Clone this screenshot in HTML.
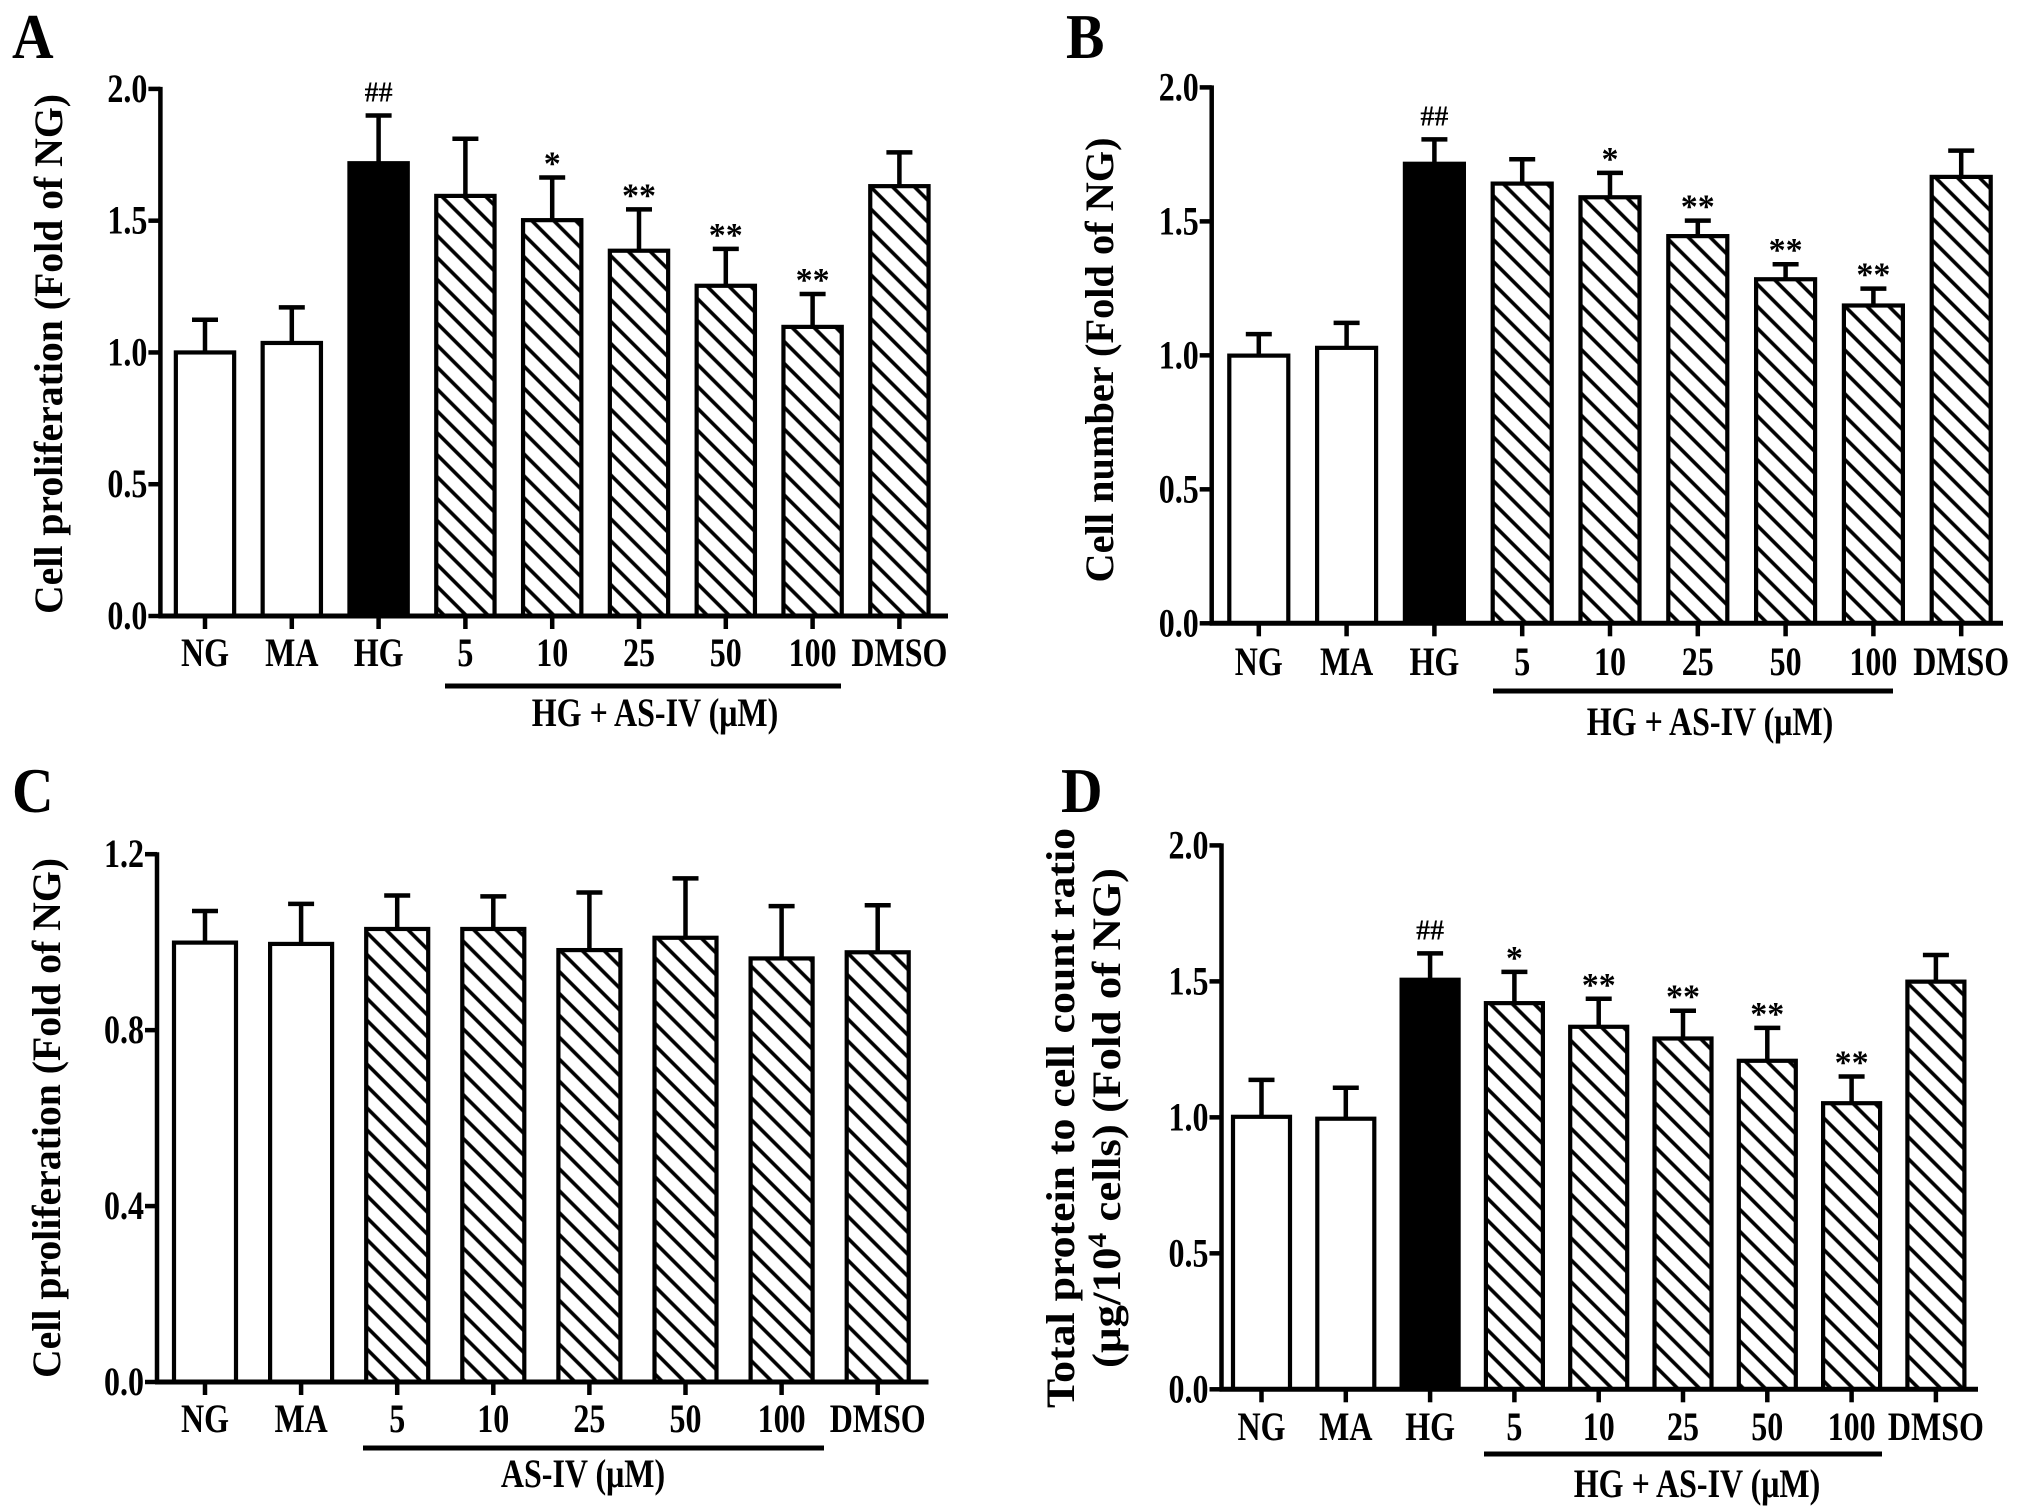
<!DOCTYPE html>
<html><head><meta charset="utf-8"><style>
html,body{margin:0;padding:0;background:#fff}
svg{display:block}
text{font-family:"Liberation Serif",serif;font-weight:bold;fill:#000}
</style></head><body>
<svg id="fig" width="2031" height="1507" viewBox="0 0 2031 1507" xmlns="http://www.w3.org/2000/svg">
<defs>
<pattern id="hatch" patternUnits="userSpaceOnUse" width="15.5" height="15.5" patternTransform="rotate(-45)">
<rect width="15.5" height="15.5" fill="#fff"/>
<line x1="3" y1="0" x2="3" y2="15.5" stroke="#000" stroke-width="3.6"/>
</pattern>
</defs>
</svg>
<script>
// ---- data ----
const catsA = ["NG","MA","HG","5","10","25","50","100","DMSO"];
const valsA = [1.0,1.036,1.718,1.594,1.502,1.386,1.253,1.097,1.631];
const errA  = [1.124,1.171,1.899,1.811,1.664,1.543,1.393,1.222,1.759];
const sigA  = ["","","##","","*","**","**","**",""];
const ticksA = [0,0.5,1.0,1.5,2.0];
const tickLabelsA = ["0.0","0.5","1.0","1.5","2.0"];

const catsB = ["NG","MA","HG","5","10","25","50","100","DMSO"];
const valsB = [0.999,1.028,1.715,1.641,1.590,1.445,1.284,1.186,1.666];
const errB  = [1.079,1.121,1.806,1.732,1.681,1.503,1.340,1.249,1.764];
const sigB  = ["","","##","","*","**","**","**",""];
const ticksB = [0,0.5,1.0,1.5,2.0];
const tickLabelsB = ["0.0","0.5","1.0","1.5","2.0"];

const catsC = ["NG","MA","5","10","25","50","100","DMSO"];
const valsC = [0.999,0.996,1.030,1.030,0.982,1.010,0.963,0.977];
const errC  = [1.071,1.087,1.106,1.104,1.113,1.145,1.082,1.084];
const sigC  = ["","","","","","","",""];
const ticksC = [0,0.4,0.8,1.2];
const tickLabelsC = ["0.0","0.4","0.8","1.2"];

const catsD = ["NG","MA","HG","5","10","25","50","100","DMSO"];
const valsD = [1.002,0.995,1.506,1.420,1.333,1.290,1.208,1.052,1.499];
const errD  = [1.138,1.109,1.603,1.535,1.436,1.392,1.329,1.150,1.597];
const sigD  = ["","","##","*","**","**","**","**",""];
const ticksD = [0,0.5,1.0,1.5,2.0];
const tickLabelsD = ["0.0","0.5","1.0","1.5","2.0"];

const styleA = ["open","open","solid","hatch","hatch","hatch","hatch","hatch","hatch"];
const styleC = ["open","open","hatch","hatch","hatch","hatch","hatch","hatch"];

const NS = "http://www.w3.org/2000/svg";
const svg = document.getElementById('fig');
function mk(tag, attrs, parent){
  const e = document.createElementNS(NS, tag);
  for (const k in attrs) e.setAttribute(k, attrs[k]);
  (parent||svg).appendChild(e);
  return e;
}
// condensed tall text
function ctext(g, x, y, str, size, anchor, sx){
  const t = mk('text', {x:0, y:0, 'text-anchor':anchor, 'font-size':size, transform:'translate('+x+','+y+') scale('+sx+',1)'}, g);
  t.textContent = str;
  return t;
}

function panel(p){
  const g = mk('g', {});
  
  
  const yScale = v => p.y0 - (v / p.ymax) * (p.y0 - p.yTop);
  const xScale = i => p.c0 + i * p.step;
  const L = ctext(g, p.letterX, p.letterY, p.id, 64, 'start', 0.9);
  
  
  p.vals.forEach((v,i)=>{
    const cx = xScale(i), top = yScale(v), et = yScale(p.err[i]);
    const er = mk('line', {x1:cx, x2:cx, y1:top, y2:et, stroke:'#000','stroke-width':4.5}, g);
    
    
    const cap = mk('line', {x1:cx-13, x2:cx+13, y1:et, y2:et, stroke:'#000','stroke-width':4.5}, g);
    
    
    const st = p.styles[i];
    const fill = st==='solid' ? '#000' : (st==='hatch' ? 'url(#hatch)' : '#fff');
    const r = mk('rect', {x:cx-p.bw/2, y:top, width:p.bw, height:p.y0-top, fill:fill, stroke:'#000','stroke-width':4.2}, g);
    
    
    if (p.sig[i]) {
      const isHash = p.sig[i].indexOf('#')>=0;
      const s = mk('text', {x:cx, y: isHash ? et-14 : et-3, 'text-anchor':'middle', 'font-size': isHash?28:34, 'font-weight': isHash?'normal':'bold'}, g);
      s.textContent = p.sig[i];
      
      
    }
    const tk = mk('line', {x1:cx, x2:cx, y1:p.y0, y2:p.y0+13, stroke:'#000','stroke-width':4.5}, g);
    
    
    const lb = ctext(g, cx, p.labelY, p.cats[i], 40, 'middle', 0.8);
    
    
  });
  const ya = mk('line', {x1:p.x0, x2:p.x0, y1:p.yTop-2, y2:p.y0+2, stroke:'#000','stroke-width':4.5}, g);
  
  
  const xa = mk('line', {x1:p.x0-2, x2:p.xEnd, y1:p.y0, y2:p.y0, stroke:'#000','stroke-width':5}, g);
  
  
  p.ticks.forEach((t,j)=>{
    const y = yScale(t);
    const tl = mk('line', {x1:p.x0-12, x2:p.x0, y1:y, y2:y, stroke:'#000','stroke-width':4.5}, g);
    
    
    const tt = ctext(g, p.x0-13, y+13, p.tickLabels[j], 40, 'end', 0.8);
    
    
  });
  const ul = mk('line', {x1:p.ulX1, x2:p.ulX2, y1:p.ulY, y2:p.ulY, stroke:'#000','stroke-width':5}, g);
  
  
  const gl = ctext(g, p.gX, p.gY, p.group, 40, 'middle', 0.8);
  
  
  p.titles.forEach((tObj)=>{
    const t = mk('text', {x:0, y:0, 'text-anchor':'middle', 'font-size':40, transform:'translate('+tObj.x+','+p.tCy+') rotate(-90)', textLength:tObj.len, lengthAdjust:'spacingAndGlyphs'}, g);
    if (tObj.sup) {
      t.appendChild(document.createTextNode(tObj.pre));
      const s = document.createElementNS(NS,'tspan');
      s.setAttribute('baseline-shift','super'); s.setAttribute('font-size','26');
      s.textContent = tObj.sup; t.appendChild(s);
      t.appendChild(document.createTextNode(tObj.post));
    } else t.textContent = tObj.text;
    
    
  });
}

panel({id:'A', cats:catsA, vals:valsA, err:errA, sig:sigA, styles:styleA, ticks:ticksA, tickLabels:tickLabelsA, ymax:2,
  x0:160.4, yTop:88.9, y0:616, c0:205, step:86.8, bw:58.3, xEnd:948, labelY:666,
  ulX1:445, ulX2:841, ulY:686, gX:655, gY:726, group:'HG + AS-IV (\u03bcM)',
  letterX:12, letterY:58, tCy:354, titles:[{x:62, len:520, text:'Cell proliferation (Fold of NG)'}]});
panel({id:'B', cats:catsB, vals:valsB, err:errB, sig:sigB, styles:styleA, ticks:ticksB, tickLabels:tickLabelsB, ymax:2,
  x0:1211.7, yTop:87.4, y0:623.3, c0:1258.8, step:87.8, bw:59, xEnd:2003, labelY:675,
  ulX1:1493, ulX2:1893, ulY:691, gX:1710, gY:735, group:'HG + AS-IV (\u03bcM)',
  letterX:1066, letterY:58, tCy:360, titles:[{x:1113, len:445, text:'Cell number (Fold of NG)'}]});
panel({id:'C', cats:catsC, vals:valsC, err:errC, sig:sigC, styles:styleC, ticks:ticksC, tickLabels:tickLabelsC, ymax:1.2,
  x0:157, yTop:854.2, y0:1382, c0:205, step:96.1, bw:62, xEnd:928.5, labelY:1432,
  ulX1:363, ulX2:824, ulY:1448, gX:583, gY:1487, group:'AS-IV (\u03bcM)',
  letterX:12, letterY:812, tCy:1118, titles:[{x:60, len:520, text:'Cell proliferation (Fold of NG)'}]});
panel({id:'D', cats:catsD, vals:valsD, err:errD, sig:sigD, styles:styleA, ticks:ticksD, tickLabels:tickLabelsD, ymax:2,
  x0:1221.5, yTop:845.4, y0:1389.3, c0:1261.5, step:84.3, bw:57, xEnd:1978, labelY:1440,
  ulX1:1484, ulX2:1882, ulY:1454, gX:1697, gY:1497, group:'HG + AS-IV (\u03bcM)',
  letterX:1061, letterY:812, tCy:1118, titles:[
    {x:1074, len:580, text:'Total protein to cell count ratio'},
    {x:1120, len:500, sup:true, pre:'(\u03bcg/10', sup:'4', post:' cells) (Fold of NG)'}]});
</script>
</body></html>
